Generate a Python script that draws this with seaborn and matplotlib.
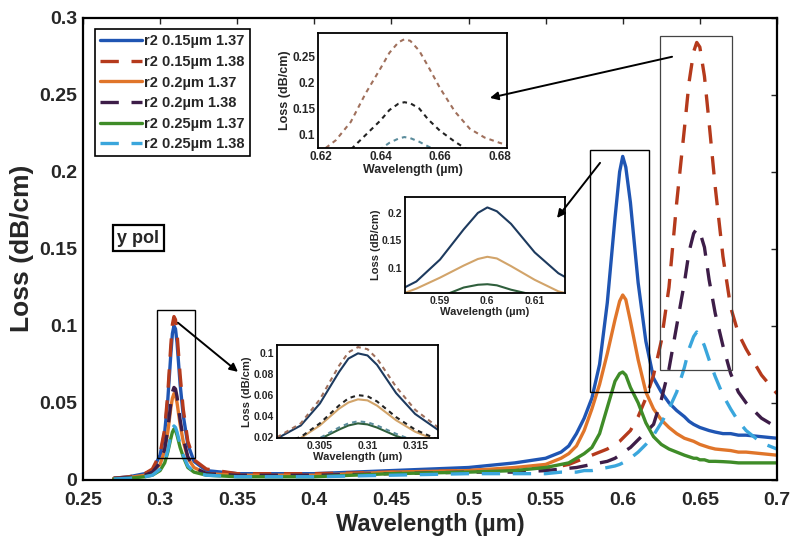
import numpy as np
import pandas as pd
import matplotlib
matplotlib.use("Agg")
import matplotlib.pyplot as plt
import seaborn as sns
from matplotlib.patches import Rectangle, ConnectionPatch
from matplotlib.lines import Line2D
from matplotlib.ticker import FuncFormatter

# ---------------- data ----------------
wavelength = [0.27, 0.28, 0.29, 0.295, 0.300, 0.303, 0.305, 0.307, 0.308, 0.309,
              0.310, 0.311, 0.313, 0.315, 0.318, 0.322, 0.33, 0.35, 0.40, 0.45,
              0.50, 0.53, 0.55, 0.56, 0.565, 0.57, 0.575, 0.58, 0.585, 0.59,
              0.595, 0.598, 0.600, 0.602, 0.605, 0.61, 0.615, 0.62, 0.625, 0.63,
              0.635, 0.64, 0.643, 0.646, 0.648, 0.650, 0.653, 0.656, 0.66, 0.665,
              0.67, 0.675, 0.68, 0.69, 0.70]

loss_015_137 = [0.001, 0.002, 0.004, 0.006, 0.016, 0.031, 0.052, 0.082, 0.095, 0.100,
                0.098, 0.089, 0.062, 0.042, 0.023, 0.012, 0.006, 0.004, 0.004, 0.006,
                0.008, 0.011, 0.014, 0.018, 0.022, 0.030, 0.040, 0.053, 0.075, 0.115,
                0.170, 0.200, 0.210, 0.203, 0.180, 0.128, 0.090, 0.066, 0.057, 0.050,
                0.045, 0.041, 0.038, 0.036, 0.035, 0.034, 0.033, 0.032, 0.031, 0.030,
                0.030, 0.029, 0.029, 0.028, 0.027]
loss_015_138 = [0.001, 0.002, 0.004, 0.007, 0.017, 0.033, 0.056, 0.088, 0.101, 0.106,
                0.104, 0.095, 0.068, 0.046, 0.025, 0.013, 0.007, 0.004, 0.004, 0.005,
                0.006, 0.007, 0.008, 0.009, 0.010, 0.012, 0.014, 0.016, 0.018, 0.020,
                0.023, 0.025, 0.027, 0.029, 0.032, 0.041, 0.053, 0.068, 0.090, 0.125,
                0.180, 0.228, 0.258, 0.278, 0.284, 0.281, 0.262, 0.232, 0.190, 0.145,
                0.112, 0.095, 0.085, 0.068, 0.056]
loss_020_137 = [0.001, 0.0015, 0.003, 0.005, 0.010, 0.019, 0.031, 0.047, 0.053, 0.056,
                0.055, 0.050, 0.036, 0.025, 0.014, 0.008, 0.004, 0.003, 0.003, 0.005,
                0.006, 0.008, 0.010, 0.014, 0.017, 0.022, 0.032, 0.046, 0.062, 0.082,
                0.104, 0.116, 0.120, 0.117, 0.103, 0.078, 0.057, 0.046, 0.039, 0.034,
                0.030, 0.027, 0.026, 0.025, 0.024, 0.023, 0.022, 0.021, 0.020, 0.0195,
                0.019, 0.018, 0.018, 0.017, 0.016]
loss_020_138 = [0.001, 0.0015, 0.003, 0.005, 0.011, 0.020, 0.033, 0.050, 0.057, 0.060,
                0.059, 0.054, 0.039, 0.027, 0.015, 0.008, 0.004, 0.003, 0.003, 0.004,
                0.005, 0.005, 0.006, 0.007, 0.0075, 0.008, 0.009, 0.010, 0.011, 0.012,
                0.014, 0.016, 0.017, 0.019, 0.021, 0.026, 0.031, 0.036, 0.052, 0.072,
                0.100, 0.128, 0.148, 0.160, 0.163, 0.161, 0.151, 0.130, 0.108, 0.087,
                0.069, 0.057, 0.050, 0.040, 0.034]
loss_025_137 = [0.0005, 0.001, 0.002, 0.003, 0.006, 0.011, 0.018, 0.027, 0.031, 0.033,
                0.032, 0.029, 0.021, 0.015, 0.008, 0.005, 0.003, 0.002, 0.002, 0.004,
                0.005, 0.006, 0.008, 0.010, 0.011, 0.014, 0.017, 0.021, 0.030, 0.047,
                0.064, 0.069, 0.070, 0.068, 0.060, 0.050, 0.037, 0.028, 0.023, 0.020,
                0.018, 0.016, 0.015, 0.014, 0.014, 0.013, 0.013, 0.012, 0.012, 0.0118,
                0.0115, 0.011, 0.011, 0.011, 0.011]
loss_025_138 = [0.0005, 0.001, 0.002, 0.003, 0.007, 0.012, 0.019, 0.029, 0.033, 0.035,
                0.034, 0.031, 0.023, 0.016, 0.009, 0.005, 0.003, 0.002, 0.002, 0.003,
                0.004, 0.004, 0.004, 0.005, 0.005, 0.005, 0.006, 0.006, 0.007, 0.008,
                0.009, 0.010, 0.011, 0.012, 0.014, 0.018, 0.023, 0.029, 0.037, 0.046,
                0.057, 0.073, 0.085, 0.093, 0.096, 0.094, 0.087, 0.078, 0.067, 0.055,
                0.046, 0.038, 0.032, 0.024, 0.020]

series_names = ["r2 0.15\u00b5m 1.37", "r2 0.15\u00b5m 1.38", "r2 0.2\u00b5m 1.37",
                "r2 0.2\u00b5m 1.38", "r2 0.25\u00b5m 1.37", "r2 0.25\u00b5m 1.38"]
series_values = [loss_015_137, loss_015_138, loss_020_137,
                 loss_020_138, loss_025_137, loss_025_138]

x_ticks = [0.25, 0.3, 0.35, 0.4, 0.45, 0.5, 0.55, 0.6, 0.65, 0.7]
y_ticks = [0, 0.05, 0.1, 0.15, 0.2, 0.25, 0.3]

# ---------------- style ----------------
colors = ["#1f55b3", "#b53a1c", "#e0752a", "#3d1d48", "#3f8c28", "#3aa6dc"]
inset_colors = ["#1d3a5e", "#a0705c", "#d2a46a", "#222222", "#2f5f3c", "#5b8c9c"]
is_dashed = [False, True, False, True, False, True]

sns.set_style("white")
plt.rcParams["font.family"] = ["Liberation Sans", "DejaVu Sans"]
plt.rcParams["font.weight"] = "bold"
plt.rcParams["axes.labelweight"] = "bold"

df = pd.DataFrame({
    "Wavelength": np.tile(wavelength, len(series_names)),
    "Loss": np.concatenate(series_values),
    "series": np.repeat(series_names, len(wavelength)),
})

fig = plt.figure(figsize=(7.94, 5.56), dpi=100)
ax = fig.add_axes([0.1045, 0.137, 0.874, 0.831])

main_dash = (5.5, 3.8)
sns.lineplot(data=df, x="Wavelength", y="Loss", hue="series", style="series",
             hue_order=series_names, style_order=series_names,
             palette=dict(zip(series_names, colors)),
             dashes={n: (main_dash if d else "") for n, d in zip(series_names, is_dashed)},
             estimator=None, sort=False, lw=2.4, legend=False, ax=ax)

ax.set_xlim(0.25, 0.7)
ax.set_ylim(0, 0.3)
ax.set_xticks(x_ticks)
ax.set_yticks(y_ticks)
fmt = FuncFormatter(lambda v, p: f"{v:g}")
ax.xaxis.set_major_formatter(fmt)
ax.yaxis.set_major_formatter(fmt)
ax.tick_params(direction="in", length=4, width=1, top=True, right=True,
               labelsize=14)
ax.tick_params(axis="x", pad=9)
ax.tick_params(axis="y", pad=4)
for lab in ax.get_xticklabels() + ax.get_yticklabels():
    lab.set_fontweight("bold")
ax.set_xlabel("Wavelength (\u00b5m)", fontsize=17, fontweight="bold", labelpad=3)
ax.set_ylabel("Loss (dB/cm)", fontsize=19, fontweight="bold", labelpad=4)
for s in ax.spines.values():
    s.set_linewidth(1.6)
    s.set_color("black")

# legend
handles = [Line2D([], [], color=c, lw=2.4,
                  linestyle=(0, main_dash) if d else "-")
           for c, d in zip(colors, is_dashed)]
leg = ax.legend(handles, series_names, loc="upper left",
                bbox_to_anchor=(0.017, 0.975), borderaxespad=0,
                fancybox=False, edgecolor="black", framealpha=1,
                prop={"weight": "bold", "size": 10.5},
                handlelength=2.9, handletextpad=0.15, labelspacing=0.45,
                borderpad=0.35)
leg.get_frame().set_linewidth(1.2)

# y pol label
ax.text(0.2857, 0.157, "y pol", fontsize=13, fontweight="bold", ha="center",
        va="center", bbox=dict(boxstyle="square,pad=0.25", fc="white",
                               ec="black", lw=1.6))

# boxes around peaks
ax.add_patch(Rectangle((0.298, 0.0143), 0.3226 - 0.298, 0.110 - 0.0143,
                       fill=False, ec="black", lw=1.0, zorder=5))
ax.add_patch(Rectangle((0.5787, 0.057), 0.6173 - 0.5787, 0.214 - 0.057,
                       fill=False, ec="black", lw=1.0, zorder=5))
ax.add_patch(Rectangle((0.624, 0.0714), 0.6707 - 0.624, 0.288 - 0.0714,
                       fill=False, ec="#444444", lw=0.9, zorder=5))


# ---------------- insets ----------------
def make_inset(rect, idx, xlim, ylim, xt, yt, tsize, lsize):
    ia = fig.add_axes(rect)
    ia.set_facecolor("white")
    sub_names = [series_names[i] for i in idx]
    sub = df[df["series"].isin(sub_names)]
    sns.lineplot(data=sub, x="Wavelength", y="Loss", hue="series", style="series",
                 hue_order=sub_names, style_order=sub_names,
                 palette={series_names[i]: inset_colors[i] for i in idx},
                 dashes={series_names[i]: ((2.2, 2.0) if is_dashed[i] else "")
                         for i in idx},
                 estimator=None, sort=False, lw=1.5, legend=False, ax=ia)
    ia.set_xlim(*xlim)
    ia.set_ylim(*ylim)
    ia.set_xticks(xt)
    ia.set_yticks(yt)
    ia.xaxis.set_major_formatter(fmt)
    ia.yaxis.set_major_formatter(fmt)
    ia.tick_params(direction="in", length=2, width=0.8, labelsize=tsize, pad=2)
    for lab in ia.get_xticklabels() + ia.get_yticklabels():
        lab.set_fontweight("bold")
    ia.set_xlabel("Wavelength (\u00b5m)", fontsize=lsize, fontweight="bold", labelpad=1)
    ia.set_ylabel("Loss (dB/cm)", fontsize=lsize, fontweight="bold", labelpad=1)
    for s in ia.spines.values():
        s.set_linewidth(1.3)
        s.set_color("black")
    return ia


in1 = make_inset([318 / 794, 1 - 148 / 556, 189 / 794, 115 / 556], [1, 3, 5],
                 (0.619, 0.6825), (0.075, 0.296), [0.62, 0.64, 0.66, 0.68],
                 [0.1, 0.15, 0.2, 0.25], 8.5, 9)
in2 = make_inset([405 / 794, 1 - 293 / 556, 160 / 794, 96 / 556], [0, 2, 4],
                 (0.5826, 0.6164), (0.054, 0.229), [0.59, 0.6, 0.61],
                 [0.1, 0.15, 0.2], 7.5, 8)
in3 = make_inset([277 / 794, 1 - 438 / 556, 161 / 794, 93 / 556], [0, 1, 2, 3, 4, 5],
                 (0.3005, 0.3174), (0.019, 0.108), [0.305, 0.31, 0.315],
                 [0.02, 0.04, 0.06, 0.08, 0.1], 7.5, 8)

# arrows from peaks to insets
arrows = [((0.632, 0.2747), (0.5139, 0.248)),
          ((0.5853, 0.2058), (0.5574, 0.170)),
          ((0.3116, 0.102), (0.3505, 0.0701))]
for a, b in arrows:
    cp = ConnectionPatch(xyA=a, coordsA=ax.transData, xyB=b, coordsB=ax.transData,
                         arrowstyle="-|>", mutation_scale=12, lw=1.4,
                         color="black", zorder=10)
    fig.add_artist(cp)

fig.savefig("out.png", dpi=100)
